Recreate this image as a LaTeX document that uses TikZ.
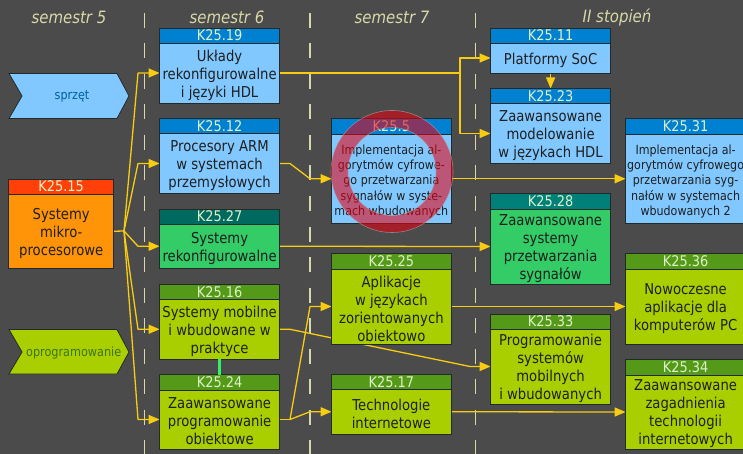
\documentclass[tikz,border=0pt]{standalone}
\usepackage{fontspec}
\setmainfont{DejaVu Sans}[FakeStretch=0.88]
\usetikzlibrary{arrows.meta,backgrounds}
\definecolor{bg}{HTML}{4B4B4B}
\definecolor{dashc}{HTML}{D8D8A8}
\definecolor{arrc}{HTML}{F8CC10}
\definecolor{edge}{HTML}{222A2A}
\definecolor{blueb}{HTML}{80C8FF}
\definecolor{blueh}{HTML}{0080D0}
\definecolor{limeb}{HTML}{AACF00}
\definecolor{limeh}{HTML}{559919}
\definecolor{greenb}{HTML}{33CC66}
\definecolor{greenh}{HTML}{006A60}
\definecolor{teelh}{HTML}{008078}
\definecolor{orangeb}{HTML}{FF9408}
\definecolor{orangeh}{HTML}{FF4008}
\definecolor{headtext}{HTML}{DDF2C8}
\definecolor{ringc}{HTML}{E80010}
\definecolor{linkgreen}{HTML}{33F066}
\tikzset{
  boxbase/.style={draw=edge,line width=0.9pt,inner sep=0pt,outer sep=0pt},
  headbase/.style={boxbase,text=headtext,font=\fontsize{14.7}{16}\selectfont},
  bodyblue/.style={boxbase,fill=blueb},
  headblue/.style={headbase,fill=blueh},
  bodysmall/.style={boxbase,fill=blueb},
  headsmall/.style={headbase,fill=blueh},
  bodylime/.style={boxbase,fill=limeb},
  headlime/.style={headbase,fill=limeh},
  bodygreen/.style={boxbase,fill=greenb},
  headgreen/.style={headbase,fill=greenh},
  bodyteel/.style={boxbase,fill=greenb},
  headteel/.style={headbase,fill=teelh},
  bodyorange/.style={boxbase,fill=orangeb},
  headorange/.style={headbase,fill=orangeh},
  textbase/.style={inner sep=0pt,align=center,text=black!88,yshift=-2pt,font=\fontsize{15}{18}\selectfont},
  textblue/.style={textbase},textlime/.style={textbase},textgreen/.style={textbase},textteel/.style={textbase},textorange/.style={textbase},
  textsmall/.style={textbase,yshift=-0.5pt,font=\fontsize{12.6}{15.3}\selectfont},
  link/.style={draw=arrc,line width=1.3pt,line join=round,-{Triangle[length=11pt,width=9pt]}},
  plain/.style={draw=arrc,line width=1.3pt,line join=round},
  sep/.style={draw=dashc,line width=1.3pt,dash pattern=on 15pt off 15.5pt},
  sem/.style={text=dashc,font=\fontsize{17}{18}\itshape\selectfont,inner sep=0pt},
  tag/.style={draw=edge,line width=0.8pt,line join=miter},
}
\newcommand\course[9]{%
  \pgfmathsetmacro\cx{#2+#3/2}%
  \pgfmathsetmacro\hy{(#4+#5)/2}%
  \pgfmathsetmacro\hh{#5-#4}%
  \pgfmathsetmacro\by{(#5+#6)/2}%
  \pgfmathsetmacro\bh{#6-#5}%
  \node[head#7,minimum width=#3pt,minimum height=\hh pt] (#1h) at (\cx,\hy) {\raisebox{-1pt}{#8}};
  \node[body#7,minimum width=#3pt,minimum height=\bh pt] (#1) at (\cx,\by) {};
  \node[text#7] (#1t) at (\cx,\by) {#9};
}
\begin{document}
\begin{tikzpicture}[x=1pt,y=-1pt]
\useasboundingbox (0,0) rectangle (743,454);
\clip (0,0) rectangle (743,454);
\node[sem] (l5) at (69,17) {semestr 5};
\node[sem] (l6) at (227,17) {semestr 6};
\node[sem] (l7) at (392,17) {semestr 7};
\node[sem] (l2) at (617,17) {II stopień};

\draw[tag,fill=blueb] (9,73.5) -- (117,73.5) -- (129,96) -- (117,118.5) -- (9,118.5) -- (22,96) -- cycle;
\node[text=blueh!75!black,font=\fontsize{12.7}{14}\selectfont,inner sep=0pt] (tagsprzet) at (72,96.5) {sprzęt};
\draw[tag,fill=limeb] (9,329.5) -- (117,329.5) -- (129,352) -- (117,374) -- (9,374) -- (22,352) -- cycle;
\node[text=limeh!75!black,font=\fontsize{12.8}{14}\selectfont,inner sep=0pt] (tagopr) at (73.7,352.5) {oprogramowanie};

\course{k15}{8.7}{105}{179}{194}{268.5}{orange}{K25.15}{Systemy\\mikro-\\procesorowe}
\course{k19}{159.6}{120}{28}{43}{103}{blue}{K25.19}{Układy\\rekonfigurowalne\\i języki HDL}
\course{k12}{159.6}{120}{118.5}{133.5}{193.5}{blue}{K25.12}{Procesory ARM\\w systemach\\przemysłowych}
\course{k27}{159.6}{120}{209}{224}{268.5}{green}{K25.27}{Systemy\\rekonfigurowalne}
\course{k16}{159.6}{120}{284.5}{299.5}{359}{lime}{K25.16}{Systemy mobilne\\i wbudowane w\\praktyce}
\course{k24}{159.6}{120}{374.7}{390}{449}{lime}{K25.24}{Zaawansowane\\programowanie\\obiektowe}
\course{k5}{331.6}{119.5}{118.5}{134}{223.5}{small}{K25.5}{Implementacja al-\\gorytmów cyfrowe-\\go przetwarzania\\sygnałów w syste-\\mach wbudowanych}
\course{k25}{331.6}{119.5}{253.7}{269}{344}{lime}{K25.25}{Aplikacje\\w językach\\zorientowanych\\obiektowo}
\course{k17}{331.6}{119.5}{374.3}{389.5}{434}{lime}{K25.17}{Technologie\\internetowe}
\course{k11}{490.6}{120}{28}{43}{73}{blue}{K25.11}{Platformy SoC}
\course{k23}{490.6}{120}{88.5}{103.5}{163.5}{blue}{K25.23}{Zaawansowane\\modelowanie\\w językach HDL}
\course{k28}{490.6}{120}{193.5}{209}{284}{teel}{K25.28}{Zaawansowane\\systemy\\przetwarzania\\sygnałów}
\course{k33}{490.6}{120}{314}{329}{404}{lime}{K25.33}{Programowanie\\systemów\\mobilnych\\i wbudowanych}
\course{k31}{625.6}{120}{118.5}{134}{223.5}{small}{K25.31}{Implementacja al-\\gorytmów cyfrowego\\przetwarzania syg-\\nałów w systemach\\wbudowanych 2}
\course{k36}{625.6}{120}{253.7}{269}{344}{lime}{K25.36}{Nowoczesne\\aplikacje dla\\komputerów PC}
\course{k34}{625.6}{120}{359.7}{375}{449}{lime}{K25.34}{Zaawansowane\\zagadnienia\\technologii\\internetowych}

\coordinate (f15) at (124,231);
\coordinate (f19) at (460,73);
\coordinate (b16) at (290,329.3);
\coordinate (c16) at (470,366.5);
\coordinate (f24) at (290,419.5);
\coordinate (g12a) at (290,163.5);
\coordinate (g12b) at (310,178.75);
\coordinate (a19) at (138,73);
\coordinate (a12) at (138,163.5);
\coordinate (a27) at (138,246.25);
\coordinate (a16) at (138,329.25);
\coordinate (a24) at (138,419.5);
\coordinate (a25) at (310,306.5);
\coordinate (a17) at (310,411.75);
\coordinate (s1a) at (144.5,13); \coordinate (s1b) at (144.5,454);
\coordinate (s2a) at (310,13); \coordinate (s2b) at (310,454);
\coordinate (s3a) at (475.5,13); \coordinate (s3b) at (475.5,454);

\begin{scope}[on background layer]
\fill[bg] (0,0) rectangle (743,454);
\draw[sep] (s1a) -- (s1b);
\draw[sep] (s2a) -- (s2b);
\draw[sep] (s3a) -- (s3b);
\draw[plain] (k15.east) -- (f15);
\draw[link] (f15) -- (a19) -- (k19.west);
\draw[link] (f15) -- (a12) -- (k12.west);
\draw[link] (f15) -- (a27) -- (k27.west);
\draw[link] (f15) -- (a16) -- (k16.west);
\draw[link] (f15) -- (a24) -- (k24.west);
\draw[plain] (k19.east) -- (f19);
\draw[link] (f19) |- (k11.west);
\draw[link] (f19) |- (k23.west);
\draw[link] (k11.south) -- (k23h.north);
\draw[link] (k12.east) -- (g12a) -- (g12b) -- (k5.west);
\draw[link] (k27.east) -- (k28.west);
\draw[plain] (k24.east) -- (f24);
\draw[link] (f24) -- (a25) -- (k25.west);
\draw[link] (f24) -- (a17) -- (k17.west);
\draw[link] (k25.east) -- (k36.west);
\draw[link] (k17.east) -- (k34.west);
\draw[link] (k5.east) -- (k31.west);
\draw[link] (k16.east) -- (b16) -- (c16) -- (k33.west);
\end{scope}
\draw[draw=linkgreen,line width=2.4pt] (k16.south) -- (k24h.north);
\coordinate (ringcentre) at (392,171.5);
\path[fill=ringc,fill opacity=0.57,draw=white!70!black,draw opacity=0.6,line width=0.6pt,even odd rule]
  (ringcentre) circle[radius=61pt] (ringcentre) circle[radius=44pt];
\end{tikzpicture}
\end{document}
